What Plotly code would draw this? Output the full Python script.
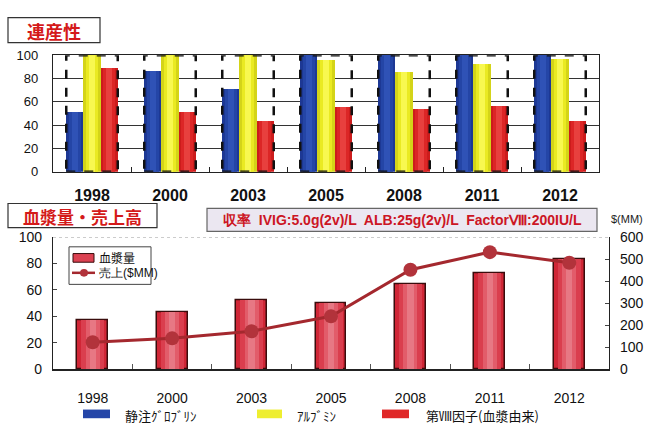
import plotly.graph_objects as go

# ---- data ----
years = ["1998", "2000", "2003", "2005", "2008", "2011", "2012"]

# 連産性 (%)
ivig = [51, 86, 71, 100, 100, 100, 100]
albumin = [100, 100, 100, 96, 85, 92, 97]
factor8 = [89, 51, 43, 55, 54, 56, 43]

# 血漿量 and 売上
plasma = [37, 43, 52, 50, 64, 73, 83]
sales = [122, 140, 172, 240, 452, 532, 484]

series_names = ["静注ｸﾞﾛﾌﾞﾘﾝ", "ｱﾙﾌﾞﾐﾝ", "第Ⅷ因子(血漿由来)"]

W, H = 657, 432


def px(x):
    return x / W


def py(y):
    return 1 - y / H


JP = "Noto Sans CJK JP, Noto Sans, sans-serif"
NUM = "Liberation Sans, Arial, sans-serif"

fig = go.Figure()

# ---- top chart: grouped bars with cylinder-like shading ----
top_series = [
    (ivig, ["#1d3894", "#2445a6", "#2f52b6"]),
    (albumin, ["#d4d418", "#eaea22", "#f8f850"]),
    (factor8, ["#cc1c1c", "#dc2626", "#e8403e"]),
]
group_w = 0.66
bar_w = group_w / 3
for k, (vals, shades) in enumerate(top_series):
    left = -group_w / 2 + k * bar_w
    for j, (frac, col) in enumerate(zip([1.0, 0.7, 0.35], shades)):
        w = bar_w * frac
        fig.add_trace(go.Bar(
            x=years, y=vals, xaxis="x", yaxis="y",
            width=w, offset=left + (bar_w - w) / 2,
            marker=dict(color=col, line=dict(width=0)),
            showlegend=False, hoverinfo="skip" if j else None,
            name=series_names[k],
        ))

# ---- bottom chart: plasma bars + sales line ----
pl_w = 0.39
for j, (frac, col) in enumerate(zip([1.0, 0.75, 0.45, 0.2],
                                    ["#d02636", "#da3e4e", "#e25c6a", "#e77884"])):
    fig.add_trace(go.Bar(
        x=years, y=plasma, xaxis="x2", yaxis="y2",
        width=pl_w * frac, offset=-pl_w * frac / 2,
        marker=dict(color=col,
                    line=dict(width=1.5 if j == 0 else 0, color="#3a0c0c")),
        showlegend=False, name="血漿量",
        hoverinfo="skip" if j else None,
    ))

fig.add_trace(go.Scatter(
    x=years, y=sales, xaxis="x2", yaxis="y3",
    mode="lines+markers",
    line=dict(color="#a4282e", width=3),
    marker=dict(size=14, color="#b2333b"),
    showlegend=False, name="売上($MM)",
))

shapes = []
annotations = []


def label(x, y, text, font, xanchor="center"):
    annotations.append(dict(xref="paper", yref="paper", x=px(x), y=py(y),
                            xanchor=xanchor, yanchor="middle",
                            text=text, showarrow=False, font=font))


# dashed frames around each year group
for i in range(len(years)):
    shapes.append(dict(
        type="rect", xref="x", yref="y",
        x0=i - group_w / 2, x1=i + group_w / 2, y0=0, y1=100,
        line=dict(color="#111111", width=2.5, dash="dash"),
        layer="above",
    ))

# faint dotted top edge on the lower chart
shapes.append(dict(type="line", xref="x2 domain", yref="y2",
                   x0=0, x1=1, y0=100, y1=100,
                   line=dict(color="#9a9a9a", width=1, dash="dot")))


# title boxes
def title_box(x0, y0, x1, y1, text, size):
    shapes.append(dict(type="rect", xref="paper", yref="paper",
                       x0=px(x0), x1=px(x1), y0=py(y1), y1=py(y0),
                       line=dict(color="#333333", width=1.2),
                       fillcolor="white", layer="below"))
    label((x0 + x1) / 2, (y0 + y1) / 2 + 1, f"<b>{text}</b>",
          dict(family=JP, size=size, color="#d41a1a"))


title_box(8, 10, 100, 36, "連産性", 18)
title_box(8, 203, 157, 228, "血漿量・売上高", 17)

# yield info box
shapes.append(dict(type="rect", xref="paper", yref="paper",
                   x0=px(207), x1=px(597), y0=py(232), y1=py(208),
                   line=dict(color="#666666", width=1.2),
                   fillcolor="#ebe7f1", layer="below"))
label(402, 220,
      "<b>収率  IVIG:5.0g(2v)/L  ALB:25g(2v)/L  FactorⅧ:200IU/L</b>",
      dict(family=NUM, size=14, color="#cc1524"))

# right axis unit
label(627, 219, "$(MM)", dict(family=NUM, size=11, color="#222222"))

# inner legend for the lower chart
shapes.append(dict(type="rect", xref="paper", yref="paper",
                   x0=px(69), x1=px(151), y0=py(287), y1=py(248),
                   line=dict(color="#444444", width=1), fillcolor="white"))
shapes.append(dict(type="rect", xref="paper", yref="paper",
                   x0=px(73), x1=px(94), y0=py(264), y1=py(255),
                   line=dict(color="#3a0c0c", width=1), fillcolor="#dc4252"))
shapes.append(dict(type="line", xref="paper", yref="paper",
                   x0=px(72), x1=px(95), y0=py(275), y1=py(275),
                   line=dict(color="#a4282e", width=2.5)))
shapes.append(dict(type="circle", xref="paper", yref="paper",
                   x0=px(80), x1=px(88), y0=py(279), y1=py(271),
                   line=dict(width=0), fillcolor="#b2333b"))
label(97, 259, "血漿量", dict(family=JP, size=12, color="#111111"), "left")
label(97, 275, "売上($MM)", dict(family=NUM, size=12, color="#111111"), "left")

# bottom legend for the upper chart
legend_items = [
    (83, 110, 123, "#2546a8", series_names[0]),
    (257, 282, 295, "#eeee30", series_names[1]),
    (382, 409, 424, "#e02828", series_names[2]),
]
for x0, x1, tx, col, name in legend_items:
    shapes.append(dict(type="rect", xref="paper", yref="paper",
                       x0=px(x0), x1=px(x1), y0=py(426), y1=py(417),
                       line=dict(width=0), fillcolor=col))
    label(tx, 423, name, dict(family=JP, size=13, color="#111111"), "left")

fig.update_layout(
    width=W, height=H,
    margin=dict(l=0, r=0, t=0, b=0),
    paper_bgcolor="white", plot_bgcolor="white",
    barmode="overlay", bargap=0,
    showlegend=False,
    shapes=shapes, annotations=annotations,
    xaxis=dict(
        domain=[px(53), px(599)], anchor="y",
        type="category", categoryorder="array", categoryarray=years,
        showline=True, linecolor="#222222", linewidth=1.2, mirror=True,
        ticks="inside", tickson="boundaries", ticklen=5, tickcolor="#222222",
        ticklabelstandoff=9,
        tickfont=dict(family=NUM, size=16, color="#111111", weight="bold"),
        showgrid=False,
    ),
    yaxis=dict(
        domain=[py(170), py(49)], anchor="x",
        range=[0, 100], tickvals=[0, 20, 40, 60, 80, 100],
        showline=True, linecolor="#222222", linewidth=1.2, mirror=True,
        showgrid=True, gridcolor="#333333", gridwidth=1,
        ticks="", ticklabelstandoff=11,
        tickfont=dict(family=NUM, size=13, color="#111111"),
        zeroline=False,
    ),
    xaxis2=dict(
        domain=[px(53), px(609)], anchor="y2",
        type="category", categoryorder="array", categoryarray=years,
        showline=True, linecolor="#222222", linewidth=1.5,
        ticks="inside", tickson="boundaries", ticklen=5, tickcolor="#555555",
        ticklabelstandoff=15,
        tickfont=dict(family=NUM, size=14, color="#111111"),
        showgrid=False,
    ),
    yaxis2=dict(
        domain=[py(375), py(238)], anchor="x2",
        range=[0, 100], dtick=20,
        showline=True, linecolor="#222222", linewidth=1.2,
        ticks="inside", ticklen=4, tickcolor="#444444",
        showgrid=False, zeroline=False,
        ticklabelstandoff=7,
        tickfont=dict(family=NUM, size=14, color="#111111"),
    ),
    yaxis3=dict(
        overlaying="y2", side="right", anchor="x2",
        range=[0, 600], dtick=100,
        showline=True, linecolor="#222222", linewidth=1.2,
        ticks="inside", ticklen=4, tickcolor="#444444",
        showgrid=False, zeroline=False,
        ticklabelstandoff=7,
        tickfont=dict(family=NUM, size=14, color="#111111"),
    ),
)

fig.write_html("out.html")
